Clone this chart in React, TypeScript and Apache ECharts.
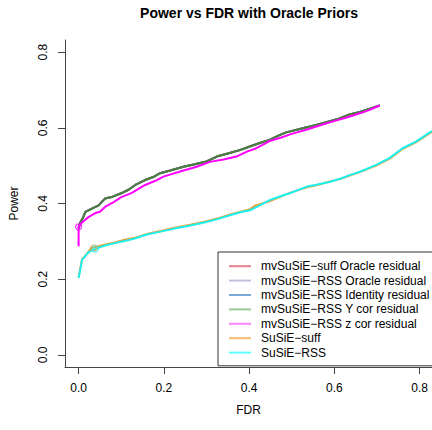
import React, { useEffect, useRef } from "react";
import * as echarts from "echarts";

const seriesNames = [
  "mvSuSiE\u2212suff Oracle residual",
  "mvSuSiE\u2212RSS Oracle residual",
  "mvSuSiE\u2212RSS Identity residual",
  "mvSuSiE\u2212RSS Y cor residual",
  "mvSuSiE\u2212RSS z cor residual",
  "SuSiE\u2212suff",
  "SuSiE\u2212RSS",
];

const xTicks = [0, 0.2, 0.4, 0.6, 0.8];
const yTicks = [0, 0.2, 0.4, 0.6, 0.8];

// mvSuSiE (oracle / identity / Y cor residual) curves overlap almost exactly
const mvFdr = [0.0, 0.004, 0.01, 0.016, 0.03, 0.047, 0.055, 0.062, 0.08, 0.1, 0.118, 0.133, 0.156, 0.175, 0.191, 0.215, 0.246, 0.27, 0.3, 0.324, 0.35, 0.378, 0.4, 0.425, 0.448, 0.47, 0.487, 0.526, 0.555, 0.581, 0.61, 0.636, 0.66, 0.682, 0.706];
const mvPower = [0.335, 0.35, 0.362, 0.378, 0.386, 0.395, 0.405, 0.413, 0.418, 0.427, 0.437, 0.449, 0.462, 0.47, 0.48, 0.487, 0.497, 0.503, 0.511, 0.524, 0.532, 0.541, 0.55, 0.56, 0.568, 0.58, 0.588, 0.599, 0.607, 0.615, 0.624, 0.635, 0.642, 0.65, 0.659];

// mvSuSiE-RSS z cor residual
const zFdr = [0.0, 0.0, 0.008, 0.023, 0.04, 0.05, 0.062, 0.08, 0.1, 0.125, 0.156, 0.18, 0.199, 0.24, 0.277, 0.308, 0.34, 0.37, 0.395, 0.417, 0.448, 0.472, 0.5, 0.534, 0.565, 0.597, 0.625, 0.651, 0.68, 0.706];
const zPower = [0.287, 0.338, 0.35, 0.364, 0.375, 0.378, 0.391, 0.402, 0.417, 0.428, 0.449, 0.46, 0.471, 0.485, 0.497, 0.51, 0.516, 0.524, 0.537, 0.546, 0.565, 0.573, 0.584, 0.595, 0.606, 0.617, 0.626, 0.635, 0.646, 0.659];

// SuSiE-suff
const suffFdr = [0.0, 0.004, 0.008, 0.018, 0.03, 0.04, 0.062, 0.085, 0.11, 0.135, 0.165, 0.195, 0.225, 0.262, 0.3, 0.33, 0.355, 0.38, 0.402, 0.415, 0.448, 0.47, 0.495, 0.534, 0.56, 0.589, 0.615, 0.636, 0.66, 0.698, 0.729, 0.76, 0.792, 0.827, 0.845];
const suffPower = [0.205, 0.23, 0.252, 0.265, 0.283, 0.285, 0.292, 0.297, 0.305, 0.31, 0.321, 0.328, 0.336, 0.344, 0.353, 0.362, 0.371, 0.378, 0.385, 0.395, 0.406, 0.416, 0.428, 0.442, 0.449, 0.458, 0.465, 0.474, 0.483, 0.5, 0.518, 0.544, 0.562, 0.588, 0.598];

// SuSiE-RSS
const rssFdr = [0.0, 0.004, 0.008, 0.015, 0.023, 0.039, 0.062, 0.08, 0.105, 0.13, 0.16, 0.19, 0.222, 0.26, 0.3, 0.33, 0.355, 0.38, 0.402, 0.425, 0.448, 0.47, 0.495, 0.534, 0.56, 0.589, 0.615, 0.636, 0.66, 0.698, 0.729, 0.76, 0.792, 0.827, 0.845];
const rssPower = [0.203, 0.225, 0.251, 0.26, 0.271, 0.28, 0.289, 0.294, 0.3, 0.307, 0.318, 0.325, 0.333, 0.341, 0.351, 0.36, 0.369, 0.377, 0.382, 0.395, 0.409, 0.418, 0.427, 0.444, 0.45, 0.457, 0.466, 0.475, 0.484, 0.502, 0.52, 0.546, 0.564, 0.59, 0.6];

// circled threshold points
const mvMarker = [0.0, 0.338];
const suffMarker = [0.036, 0.283];
const rssMarker = [0.039, 0.28];

const plotColors = ["#E41A1C", "#BEBADA", "#377EB8", "#4e7d3c", "#FF00FF", "#E8A33D", "#1EF0F0"];
const legendColors = ["#e6808d", "#c6c0de", "#7aa9d2", "#9bc796", "#ff85ff", "#f5bd6a", "#5cffff"];

const zip = (xs: number[], ys: number[]) => xs.map((x, i) => [x, ys[i]]);

const FONT = "Liberation Sans, Arial, Helvetica, sans-serif";

export default function App() {
  const ref = useRef<HTMLDivElement>(null);
  useEffect(() => {
    if (!ref.current) return;
    const chart = echarts.init(ref.current, undefined, { renderer: "svg" });
    const dataSets = [
      zip(mvFdr, mvPower),
      zip(mvFdr, mvPower),
      zip(mvFdr, mvPower),
      zip(mvFdr, mvPower),
      zip(zFdr, zPower),
      zip(suffFdr, suffPower),
      zip(rssFdr, rssPower),
    ];
    const lineSeries = seriesNames.map((name, i) => ({
      type: "line",
      name,
      data: dataSets[i],
      symbol: "none",
      showSymbol: false,
      color: plotColors[i],
      lineStyle: { color: plotColors[i], width: 2 },
      z: 2 + i,
      clip: true,
    }));
    const markerSeries = [
      { data: [mvMarker], color: plotColors[4] },
      { data: [suffMarker], color: plotColors[5] },
      { data: [rssMarker], color: plotColors[6] },
    ].map((m, i) => ({
      type: "scatter",
      name: "marker" + i,
      data: m.data,
      symbol: "circle",
      symbolSize: 6,
      itemStyle: { color: "rgba(0,0,0,0)", borderColor: m.color, borderWidth: 1.2 },
      z: 20,
    }));
    chart.setOption({
      animation: false,
      backgroundColor: "#ffffff",
      textStyle: { fontFamily: FONT },
      graphic: [
        {
          type: "text",
          x: 249,
          y: 13,
          style: {
            text: "Power vs FDR with Oracle Priors",
            font: `bold 14px ${FONT}`,
            fill: "#000",
            textAlign: "center",
            textVerticalAlign: "middle",
          },
        },
      ],
      grid: { left: 65, top: 40, width: 368, height: 327, containLabel: false },
      xAxis: {
        type: "value",
        min: -0.0319,
        max: 0.829,
        name: "FDR",
        nameLocation: "middle",
        nameGap: 37,
        nameTextStyle: { fontSize: 12, color: "#000", fontFamily: FONT },
        axisLine: { show: true, onZero: false, lineStyle: { color: "#444", width: 1 } },
        axisTick: { show: true, length: 7, customValues: xTicks, lineStyle: { color: "#444" } },
        axisLabel: {
          customValues: xTicks,
          formatter: (v: number) => v.toFixed(1),
          fontSize: 12,
          color: "#000",
          margin: 15,
          fontFamily: FONT,
        },
        splitLine: { show: false },
      },
      yAxis: {
        type: "value",
        min: -0.032,
        max: 0.832,
        name: "Power",
        nameLocation: "middle",
        nameRotate: 90,
        nameGap: 45,
        nameTextStyle: { fontSize: 12, color: "#000", fontFamily: FONT },
        axisLine: { show: true, onZero: false, lineStyle: { color: "#444", width: 1 } },
        axisTick: { show: true, length: 7, customValues: yTicks, lineStyle: { color: "#444" } },
        axisLabel: {
          customValues: yTicks,
          formatter: (v: number) => v.toFixed(1),
          rotate: 90,
          fontSize: 12,
          color: "#000",
          margin: 16,
          fontFamily: FONT,
        },
        splitLine: { show: false },
      },
      legend: {
        orient: "vertical",
        left: 218,
        top: 252,
        padding: [7, 6, 6, 11],
        borderColor: "#333",
        borderWidth: 1,
        borderRadius: 0,
        backgroundColor: "#fff",
        icon: "rect",
        itemWidth: 22,
        itemHeight: 2,
        itemGap: 0,
        selectedMode: false,
        textStyle: { fontSize: 12, color: "#000", fontFamily: FONT, lineHeight: 14.4, padding: [0, 0, 0, 5] },
        data: seriesNames.map((name, i) => ({
          name,
          icon: "rect",
          itemStyle: { color: legendColors[i], borderWidth: 0 },
        })),
      },
      series: [...lineSeries, ...markerSeries],
    });
    return () => chart.dispose();
  }, []);
  return (
    <div
      ref={ref}
      style={{ position: "fixed", left: 0, top: 0, width: 432, height: 430, background: "#fff" }}
    />
  );
}
